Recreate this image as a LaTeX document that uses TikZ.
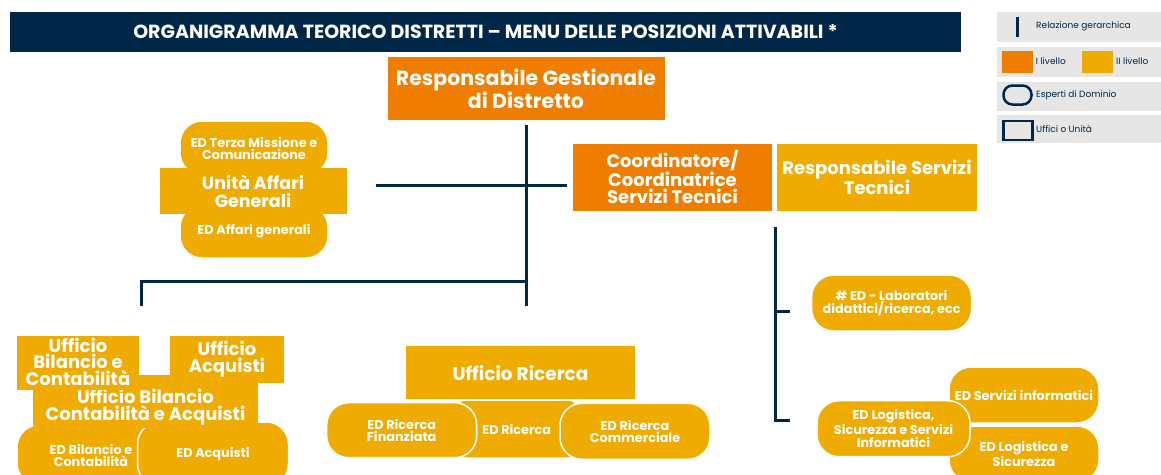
\documentclass[tikz,border=0pt]{standalone}
\usepackage{fontspec}
\setmainfont{Poppins}
\usepackage{tikz}
\usetikzlibrary{positioning, calc}
\definecolor{navy}{HTML}{002747}
\definecolor{orangeC}{HTML}{EE7D00}
\definecolor{yellowC}{HTML}{F0AB00}
\definecolor{legendgray}{HTML}{E6E6E6}

\begin{document}
\begin{tikzpicture}[x=1pt, y=-1pt,
		box/.style={rectangle, inner sep=0pt, text=white, align=center, font=\bfseries\fontsize{18}{16.5}\selectfont},
		lvlone/.style={box, fill=orangeC},
		lvltwo/.style={box, fill=yellowC},
		expert/.style={lvltwo, draw=white, line width=1.5pt, rounded corners=22pt, font=\bfseries\fontsize{12.8}{12}\selectfont},
		link/.style={navy, line width=3pt},
		legtext/.style={anchor=west, inner sep=0pt, text=navy, font=\fontsize{9}{9}\selectfont}]
		\useasboundingbox (0,0) rectangle (1161,474);
		\clip (0,0) rectangle (1161,474);

		\node[fill=navy, text=white, inner sep=0pt, minimum width=951pt, minimum height=40pt, font=\bfseries\fontsize{19}{19}\selectfont] (title) at (485.5,32) {ORGANIGRAMMA TEORICO DISTRETTI – MENU DELLE POSIZIONI ATTIVABILI *};

		% legenda
		\fill[legendgray] (997,11.7) rectangle (1161,41.7);
		\fill[legendgray] (997,46.7) rectangle (1161,76.7);
		\fill[legendgray] (997,82.3) rectangle (1161,111);
		\fill[legendgray] (997,115) rectangle (1161,143.3);
		\draw[link] (1017.3,16.7) -- (1017.3,37.3);
		\fill[orangeC] (1001.7,50.7) rectangle (1032.7,72.7);
		\fill[yellowC] (1081.7,50.5) rectangle (1112.7,72.5);
		\draw[navy, line width=2.5pt, rounded corners=9pt] (1003.5,85.5) rectangle (1031.5,104.5);
		\draw[navy, line width=2.5pt] (1003.5,121) rectangle (1032.5,140);
		\node[legtext] (lgrel) at (1036,26) {Relazione gerarchica};
		\node[legtext] (lgone) at (1035.7,61) {I livello};
		\node[legtext] (lgtwo) at (1116,61) {II livello};
		\node[legtext] (lgexp) at (1036,95.5) {Esperti di Dominio};
		\node[legtext] (lguff) at (1036,129.5) {Uffici o Unità};

		% vertice
		\node[lvlone, minimum width=277pt, minimum height=63pt, font=\bfseries\fontsize{20.5}{23}\selectfont] (rg) at (526,88.5) {Responsabile Gestionale\\di Distretto};
		\node[lvlone, minimum width=199pt, minimum height=67pt, font=\bfseries\fontsize{18}{17}\selectfont] (coord) at (672.5,177) {Coordinatore/\\Coordinatrice\\Servizi Tecnici};
		\node[lvltwo, minimum width=200pt, minimum height=67pt, font=\bfseries\fontsize{18}{17}\selectfont] (rst) at (877,177.5) {Responsabile Servizi\\Tecnici};

		% affari generali
		\node[expert, minimum width=148pt, minimum height=54pt] (edterza) at (254,148) {ED Terza Missione e\\Comunicazione};
		\node[expert, minimum width=148pt, minimum height=53pt] (edaffari) at (254,231.5) {ED Affari generali};
		\node[lvltwo, minimum width=187pt, minimum height=46pt, font=\bfseries\fontsize{17.5}{18}\selectfont] (uag) at (253,191) {Unità Affari\\Generali};

		% bilancio e acquisti
		\node[expert, minimum width=148pt, minimum height=60pt] (edbc) at (91,455) {ED Bilancio e\\Contabilità};
		\node[expert, minimum width=151pt, minimum height=64pt] (edacq) at (213,454) {ED Acquisti};
		\node[lvltwo, minimum width=225pt, minimum height=53pt, label={[box, yshift=-5.5pt, font=\bfseries\fontsize{18}{17}\selectfont]center:Ufficio Bilancio\\Contabilità e Acquisti}] (ubca) at (145.5,401.5) {};
		\node[lvltwo, minimum width=122pt, minimum height=54pt] (ub) at (78,363) {\raisebox{2pt}{\shortstack{Ufficio\\[-1.5pt]Bilancio e\\[-1.5pt]Contabilità}}};
		\node[lvltwo, minimum width=114pt, minimum height=46.7pt] (ua) at (227,359.4) {Ufficio\\Acquisti};

		% ricerca
		\node[lvltwo, minimum width=229pt, minimum height=53.3pt, font=\bfseries\fontsize{18.5}{18.5}\selectfont] (uric) at (520.5,372.7) {Ufficio Ricerca};
		\node[expert, minimum width=120pt, minimum height=58pt, rounded corners=8pt] (edr) at (516.7,429) {ED Ricerca};
		\node[expert, minimum width=150pt, minimum height=55pt] (edrf) at (401.7,430.2) {ED Ricerca\\Finanziata};
		\node[expert, minimum width=150pt, minimum height=56pt] (edrc) at (635,431.3) {ED Ricerca\\Commerciale};

		% servizi tecnici
		\node[expert, minimum width=160pt, minimum height=56pt] (labo) at (891.6,303) {\# ED - Laboratori\\didattici/ricerca, ecc};
		\node[expert, minimum width=150pt, minimum height=56pt] (edsi) at (1024,395) {ED Servizi informatici};
		\node[expert, minimum width=150pt, minimum height=56pt] (edls) at (1024,454) {ED Logistica e\\Sicurezza};
		\node[expert, minimum width=153pt, minimum height=56pt, font=\bfseries\fontsize{12.8}{12.8}\selectfont] (edlssi) at (893.5,428.7) {ED Logistica,\\Sicurezza e Servizi\\Informatici};

		% relazioni gerarchiche
		\coordinate (hl) at (0,185);
		\coordinate (tbot) at (526,305.7);
		\coordinate (lbot) at (141.7,305.7);
		\coordinate (rtop) at (775.4,227);
		\coordinate (rbot) at (775.4,421.7);
		\coordinate (tka) at (775.4,311);
		\coordinate (tkb) at (775.4,420);

		\draw[link, shorten <=5pt] (rg.south) -- (tbot);
		\draw[link] (lbot) |- ($(tbot)+(0,-24)$);
		\draw[link, shorten <=29pt, shorten >=6pt] (uag.east |- hl) -- (coord.west |- hl);
		\draw[link] (rtop) -- (rbot);
		\draw[link, shorten >=20.6pt] (tka) -- (labo.west |- tka);
		\draw[link, shorten >=26pt] (tkb) -- (edlssi.west |- tkb);

	\end{tikzpicture}
\end{document}
